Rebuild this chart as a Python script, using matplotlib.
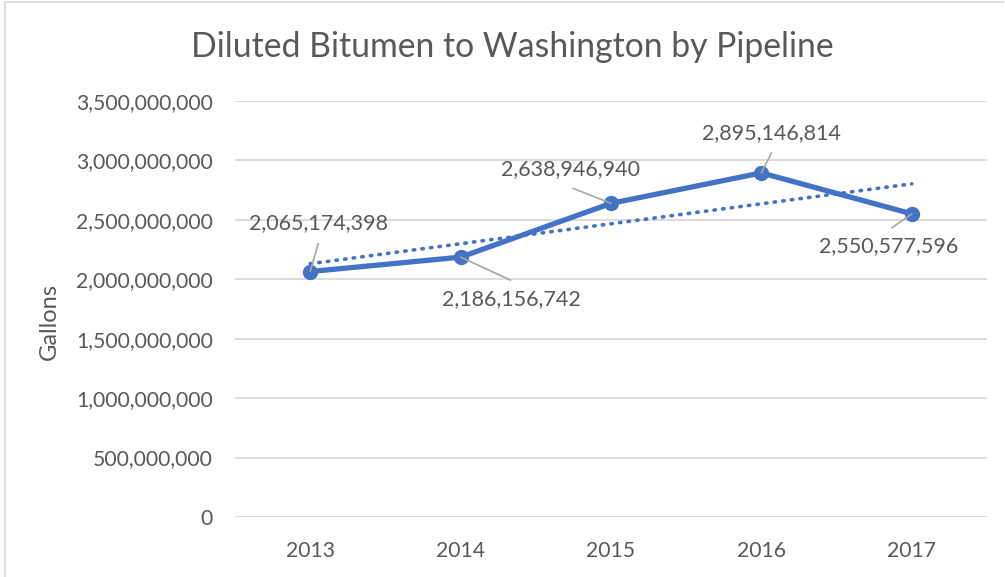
import numpy as np
import matplotlib.pyplot as plt
from matplotlib.ticker import FuncFormatter
from matplotlib.lines import Line2D

years = ['2013', '2014', '2015', '2016', '2017']
gallons = [2065174398, 2186156742, 2638946940, 2895146814, 2550577596]
yticks = [0, 500000000, 1000000000, 1500000000, 2000000000, 2500000000, 3000000000, 3500000000]

# label placement (pixels, relative to the point)
label_off = [(8, 48), (51, -42), (-41, 34), (10, 40), (-23, -32)]
leader_off = [(8, 28), (50, -23), (-38, 15), (10, 20), (-20, -14)]

blue = '#4472C4'
grey_txt = '#595959'
plt.rcParams['font.family'] = ['Lato', 'DejaVu Sans']

fig = plt.figure(figsize=(10.05, 5.77), dpi=100)
ax = fig.add_axes([235/1005, 1 - 517/577, 752/1005, 416/577])

x = np.arange(len(years))
y = np.array(gallons, dtype=float)

# linear trendline
k, b = np.polyfit(x, y, 1)
ax.plot(x, k*x + b, color=blue, lw=2.6, ls=(0, (0.4, 2.0)), dash_capstyle='round', zorder=2)

ax.plot(x, y, color=blue, lw=3.8, marker='o', ms=10, solid_capstyle='round', zorder=3)

for i in range(len(x)):
    ax.annotate('', xy=(x[i], y[i]), xytext=leader_off[i], textcoords='offset pixels',
                arrowprops=dict(arrowstyle='-', color='#a6a6a6', lw=1.2, shrinkA=0, shrinkB=0), zorder=4)
    ax.annotate(f'{gallons[i]:,}', xy=(x[i], y[i]), xytext=label_off[i], textcoords='offset pixels',
                ha='center', va='center', fontsize=15.5, color=grey_txt)

ax.set_xlim(-0.5, 4.5)
ax.set_ylim(0, 3500000000)
ax.set_yticks(yticks)
ax.yaxis.set_major_formatter(FuncFormatter(lambda v, p: f'{int(v):,}'))
ax.set_xticks(x)
ax.set_xticklabels(years)
ax.tick_params(length=0, labelsize=15.2, labelcolor=grey_txt)
ax.tick_params(axis='y', pad=16)
ax.tick_params(axis='x', pad=17)
ax.grid(axis='y', color='#d9d9d9', lw=1.3)
ax.set_axisbelow(True)
for s in ax.spines.values():
    s.set_visible(False)

ax.set_ylabel('Gallons', fontsize=17, color=grey_txt)
ax.yaxis.set_label_coords(-175/752, 0.47)

fig.text(0.51, 1 - 47/577, 'Diluted Bitumen to Washington by Pipeline', ha='center', va='center',
         fontsize=24.3, color=grey_txt)

# chart border
fig.add_artist(Line2D([5/1005, 5/1005], [0, 1 - 2/577], transform=fig.transFigure, color='#d9d9d9', lw=1.3))
fig.add_artist(Line2D([5/1005, 1003/1005], [1 - 2/577, 1 - 2/577], transform=fig.transFigure, color='#d9d9d9', lw=1.3))

fig.savefig('out.png', dpi=100)
